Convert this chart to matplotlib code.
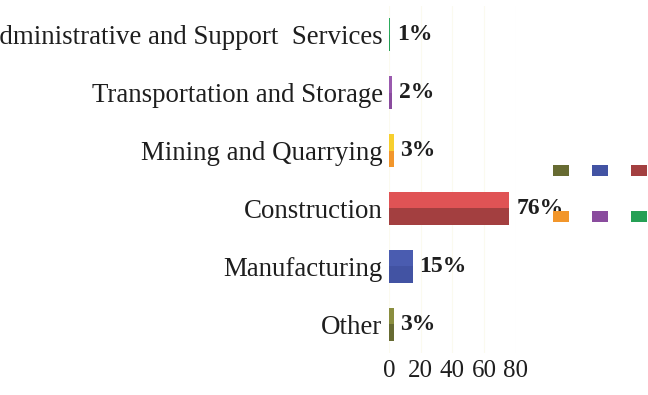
import matplotlib
matplotlib.use("Agg")
import matplotlib.pyplot as plt
from matplotlib.patches import Patch

# data, bottom to top
sectors = ['Other', 'Manufacturing', 'Construction', 'Mining and Quarrying',
           'Transportation and Storage', 'Administrative and Support  Services']
shares = [3, 15, 76, 3, 2, 1]
dark = ['#676b32', '#4253a3', '#a33f40', '#f2962b', '#8a4c9e', '#25a055']
light = ['#8a8e3f', '#4a5cb0', '#e05355', '#f7cf2e', '#9a5aae', '#2cab5c']
ticks = [0, 20, 40, 60, 80]

plt.rcParams['font.family'] = ['Liberation Serif', 'DejaVu Serif']

fig = plt.figure(figsize=(6.48, 3.95), dpi=100)
ax = fig.add_axes([0.600, 0.106, 0.196, 0.879])

pos = list(range(len(sectors)))
h = 0.57
ax.barh(pos, shares, height=h, color=dark, zorder=2)
ax.barh([p + h / 4 for p in pos], shares, height=h / 2, color=light, zorder=2)

for p, v in zip(pos, shares):
    ax.annotate(f'{v}%', (v, p), xytext=(5, 0), textcoords='offset points',
                va='center', ha='left', fontsize=17, fontweight='bold',
                color='#1e1e1e', annotation_clip=False)

ax.set_xlim(0, 80)
ax.set_ylim(-0.5, len(sectors) - 0.5)
ax.set_xticks(ticks)
ax.set_xticklabels([str(t) for t in ticks], fontsize=18, color='#1e1e1e')
ax.set_yticks(pos)
ax.set_yticklabels(sectors, fontsize=19.4, color='#1e1e1e')
ax.tick_params(length=0, pad=4.5)
ax.tick_params(axis='x', pad=5)
for s in ax.spines.values():
    s.set_visible(False)
ax.grid(axis='x', color='#fbfaef', linewidth=0.8, zorder=0)

# legend swatches without text
order = [0, 3, 1, 4, 2, 5]
handles = [Patch(facecolor=dark[i], edgecolor='none') for i in order]
fig.legend(handles, [''] * 6, ncol=3, loc='center left',
           bbox_to_anchor=(0.845, 0.507), frameon=False, fontsize=10,
           handlelength=1.15, handleheight=0.85, handletextpad=0.0,
           columnspacing=1.65, labelspacing=2.3, borderaxespad=0)

fig.savefig('out.png', dpi=100)
